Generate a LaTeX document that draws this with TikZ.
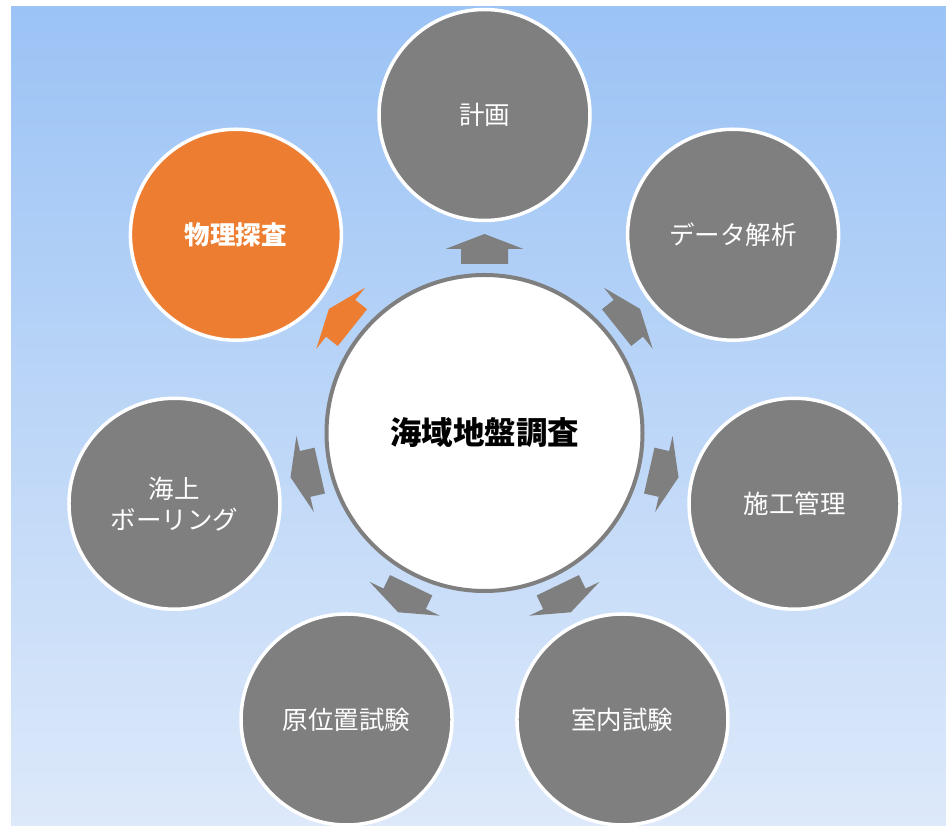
\documentclass[tikz,border=0pt]{standalone}
\usepackage{fontspec}
\setmainfont{Noto Sans CJK JP}
\usetikzlibrary{calc}
\definecolor{bgtop}{RGB}{155,195,245}
\definecolor{bgbot}{RGB}{221,233,250}
\definecolor{cgray}{RGB}{127,127,127}
\definecolor{corange}{RGB}{237,125,49}
\tikzset{
  outer/.style={circle, fill=cgray, draw=white, line width=3.5pt, minimum size=211pt, inner sep=0pt,
    text=white, align=center, font=\fontsize{25.5}{31}\selectfont},
  hub/.style={circle, fill=white, draw=cgray, line width=4pt, minimum size=316pt, inner sep=0pt,
    font=\fontsize{31.5}{36}\selectfont\bfseries},
  blockarrow/.style={draw=none}
}
\begin{document}
\begin{tikzpicture}[x=1pt,y=1pt]
\useasboundingbox (0,0) rectangle (946,827);
\shade[top color=bgtop, bottom color=bgbot] (11,1) rectangle (946,820);
\node[hub] (c) at (484.5,394) {海域地盤調査};
\def\R{318}
\node[outer] (o0) at ($(c)+(90:\R)$) {計画};
\node[outer] (o1) at ($(c)+(38.571:\R)$) {データ解析};
\node[outer] (o2) at ($(c)+(-12.857:\R)$) {施工管理};
\node[outer] (o3) at ($(c)+(-64.286:\R)$) {室内試験};
\node[outer] (o4) at ($(c)+(-115.714:\R)$) {原位置試験};
\node[outer] (o5) at ($(c)+(-167.143:\R)$) {海上\\ボーリング};
\node[outer, fill=corange, font=\fontsize{25.5}{31}\selectfont\bfseries] (o6) at ($(c)+(141.429:\R)$) {物理探査};
\foreach \a/\col in {90/cgray,38.571/cgray,-12.857/cgray,-64.286/cgray,-115.714/cgray,-167.143/cgray,141.429/corange}{
  \begin{scope}[shift={(c.center)}, rotate=\a]
    \fill[blockarrow, \col] (169,-23.5) -- (184,-23.5) -- (184,-39) -- (199,0) -- (184,39) -- (184,23.5) -- (169,23.5) -- cycle;
  \end{scope}
}
\end{tikzpicture}
\end{document}
